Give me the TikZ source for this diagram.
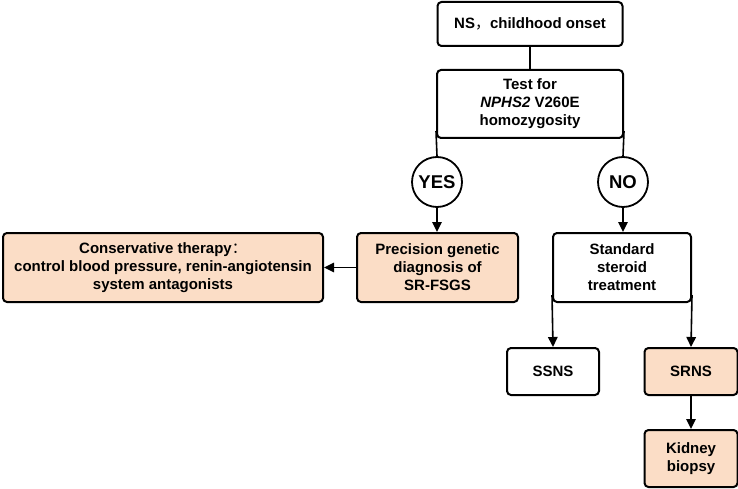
\documentclass[tikz,border=0pt]{standalone}
\usepackage{fontspec}
\setmainfont{Liberation Sans}
\newfontfamily\cjkfont{Noto Sans CJK SC}
\usetikzlibrary{arrows.meta}
\definecolor{peach}{RGB}{251,221,198}
\begin{document}
\begin{tikzpicture}[x=1pt,y=-1pt,
  box/.style={draw=black,line width=2pt,rounded corners=4pt,align=center,
    font=\fontsize{15}{18}\selectfont\bfseries,inner sep=2pt},
  pbox/.style={box,fill=peach},
  circ/.style={draw=black,line width=1.8pt,circle,minimum size=50pt,inner sep=0pt,
    font=\fontsize{18.5}{20}\selectfont\bfseries},
  conn/.style={line width=1.6pt},
  arr/.style={conn,-{Triangle[length=10pt,width=9.5pt]}}]
\useasboundingbox (0,0) rectangle (738,489);
\node[box,minimum width=185pt,minimum height=44pt] (ns) at (530,24) {NS{\cjkfont\mdseries ，}childhood onset};
\node[box,minimum width=186pt,minimum height=68pt] (test) at (530,104) {Test for\\\textit{NPHS2} V260E\\homozygosity};
\node[circ] (yes) at (437,182) {YES};
\node[circ] (no) at (623,182) {NO};
\node[pbox,minimum width=161pt,minimum height=69pt] (prec) at (437.5,267.5) {Precision genetic\\diagnosis of\\SR-FSGS};
\node[pbox,minimum width=320pt,minimum height=69pt] (cons) at (163,267.5) {Conservative therapy{\cjkfont\mdseries ：}\\control blood pressure, renin-angiotensin\\system antagonists};
\node[box,minimum width=138pt,minimum height=69pt] (std) at (622,267.5) {Standard\\steroid\\treatment};
\node[box,minimum width=92pt,minimum height=47pt] (ssns) at (553,371.5) {SSNS};
\node[pbox,minimum width=93pt,minimum height=47pt] (srns) at (691,371.5) {SRNS};
\node[pbox,minimum width=93pt,minimum height=57pt] (kid) at (691,458.5) {Kidney\\biopsy};
\draw[conn] (ns.south) -- (test.north);
\draw[conn] ([yshift=8pt]test.south west) -- (yes.north);
\draw[conn] ([yshift=8pt]test.south east) -- (no.north);
\draw[arr] (yes.south) -- (yes.south |- prec.north);
\draw[arr] (no.south) -- (no.south |- std.north);
\draw[arr] (prec.west) -- (cons.east);
\draw[arr] ([yshift=8pt]std.south west) -- (ssns.north);
\draw[arr] ([yshift=8pt]std.south east) -- (srns.north);
\draw[arr] (srns.south) -- (kid.north);
\end{tikzpicture}
\end{document}
